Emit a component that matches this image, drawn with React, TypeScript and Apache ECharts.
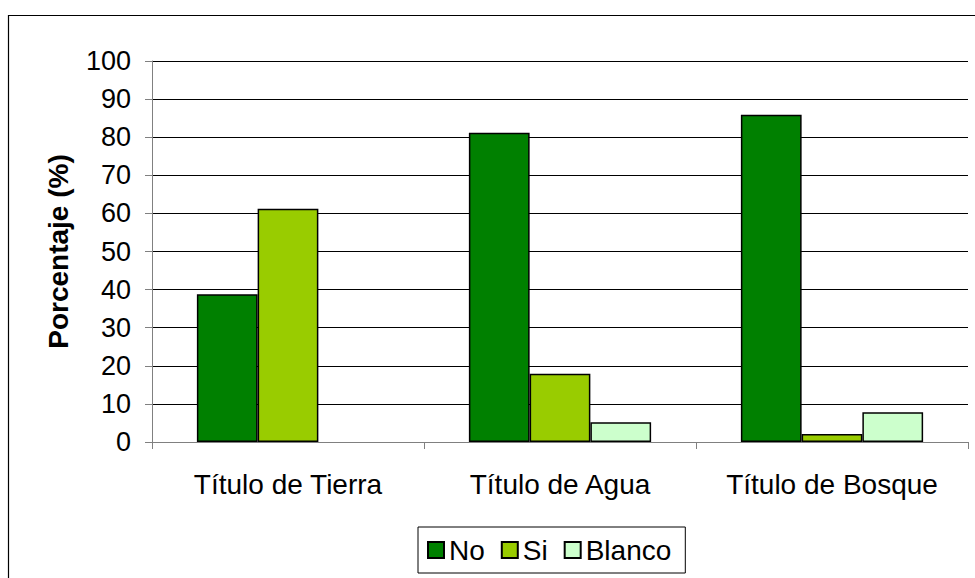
import React, { useEffect, useRef } from "react";
import * as echarts from "echarts";

const categories = ["Título de Tierra", "Título de Agua", "Título de Bosque"];
const seriesNames = ["No", "Si", "Blanco"];
const noValues = [38.8, 81.2, 85.9];
const siValues = [61.2, 17.9, 2.1];
const blancoValues = [0, 5.2, 7.8];
const colors = ["#008000", "#99CC00", "#CCFFCC"];

export default function App() {
  const ref = useRef<HTMLDivElement>(null);
  useEffect(() => {
    if (!ref.current) return;
    const chart = echarts.init(ref.current, null, { renderer: "svg" });
    const font = "Arial, 'Liberation Sans', Helvetica, sans-serif";
    const data = [noValues, siValues, blancoValues];
    chart.setOption({
      animation: false,
      backgroundColor: "#ffffff",
      textStyle: { fontFamily: font },
      graphic: [
        {
          type: "rect",
          shape: { x: 8.5, y: 15.5, width: 1000, height: 600 },
          style: { fill: "none", stroke: "#000", lineWidth: 1.2 },
          silent: true,
        },
      ],
      grid: { left: 152, right: 7, top: 61, bottom: 136, containLabel: false },
      legend: {
        data: seriesNames,
        left: 418,
        top: 527,
        orient: "horizontal",
        itemWidth: 16,
        itemHeight: 16,
        itemGap: 16,
        padding: [9, 14, 9, 9],
        borderColor: "#000",
        borderWidth: 1,
        icon: "rect",
        textStyle: { fontSize: 28, color: "#000", fontFamily: font },
      },
      xAxis: {
        type: "category",
        data: categories,
        axisLine: { lineStyle: { color: "#808080", width: 1 } },
        axisTick: { show: true, length: 7, lineStyle: { color: "#808080" } },
        axisLabel: { interval: 0, fontSize: 28, color: "#000", margin: 28, fontFamily: font },
        splitLine: { show: false },
      },
      yAxis: {
        type: "value",
        min: 0,
        max: 100,
        interval: 10,
        name: "Porcentaje (%)",
        nameLocation: "middle",
        nameGap: 80,
        nameTextStyle: { fontSize: 28, fontWeight: "bold", color: "#000", fontFamily: font },
        axisLine: { show: true, lineStyle: { color: "#808080", width: 1 } },
        axisTick: { show: true, length: 7, lineStyle: { color: "#808080" } },
        axisLabel: { fontSize: 27, color: "#000", margin: 21, fontFamily: font },
        splitLine: { show: true, lineStyle: { color: "#000", width: 1 } },
      },
      series: seriesNames.map((name, i) => ({
        name,
        type: "bar",
        data: data[i].map((v) =>
          v === 0 ? { value: v, itemStyle: { borderWidth: 0, opacity: 0 } } : v
        ),
        barGap: "0%",
        barCategoryGap: "33%",
        itemStyle: { color: colors[i], borderColor: "#000", borderWidth: 1.5 },
      })),
    });
    return () => chart.dispose();
  }, []);
  return (
    <div
      ref={ref}
      style={{ position: "fixed", left: 0, top: 0, width: 975, height: 578, background: "#fff" }}
    />
  );
}
